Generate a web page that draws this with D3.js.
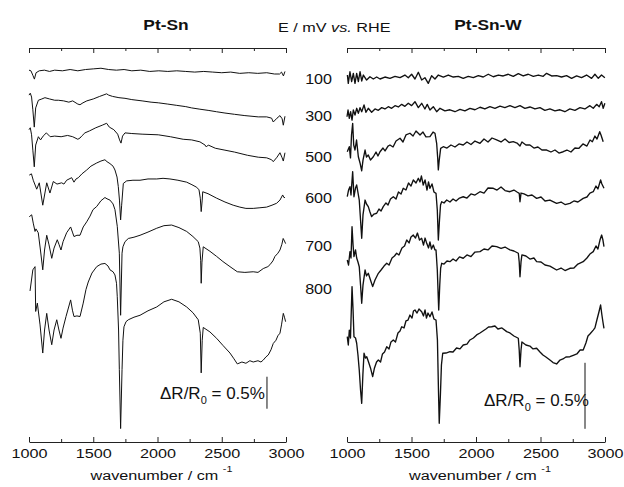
<!DOCTYPE html>
<html>
<head>
<meta charset="utf-8">
<script src="https://cdn.jsdelivr.net/npm/d3@7/dist/d3.min.js"></script>
<style>
  body { margin: 0; background: #fff; }
  svg { display: block; }
</style>
</head>
<body>
<svg id="chart" width="624" height="487"></svg>
<script>
// ─── Data: [wavenumber / cm-1, ΔR/R0 (%) incl. stacking offset] ───
const majorTicks = [1000, 1500, 2000, 2500, 3000];
const minorTicks = [1250, 1750, 2250, 2750];
const potentials = ["100", "300", "500", "600", "700", "800"];
const scaleBarValue = 0.5; // %

// Pt-Sn
const ptSn100 = [[1000,5.81],[1015,5.80],[1030,5.73],[1042,5.67],[1055,5.77],[1080,5.80],[1120,5.81],[1160,5.79],[1200,5.81],[1260,5.80],[1320,5.82],[1380,5.80],[1440,5.82],[1500,5.83],[1560,5.84],[1620,5.82],[1680,5.81],[1740,5.82],[1800,5.80],[1870,5.81],[1940,5.79],[2010,5.80],[2080,5.79],[2150,5.80],[2220,5.79],[2290,5.78],[2360,5.79],[2430,5.78],[2500,5.77],[2570,5.78],[2640,5.76],[2710,5.77],[2780,5.76],[2850,5.77],[2910,5.75],[2950,5.75],[2965,5.78],[2980,5.72],[2992,5.79]];
const ptSn300 = [[1000,5.42],[1010,5.45],[1020,5.39],[1030,5.19],[1041,4.92],[1052,5.22],[1073,5.34],[1100,5.36],[1124,5.38],[1160,5.36],[1200,5.34],[1228,5.34],[1270,5.33],[1310,5.31],[1340,5.33],[1380,5.28],[1397,5.27],[1420,5.30],[1450,5.33],[1500,5.36],[1550,5.40],[1604,5.44],[1620,5.42],[1650,5.40],[1700,5.38],[1747,5.37],[1800,5.35],[1880,5.33],[1950,5.31],[2006,5.30],[2080,5.28],[2150,5.26],[2220,5.24],[2266,5.22],[2330,5.20],[2400,5.18],[2460,5.16],[2525,5.14],[2600,5.12],[2680,5.10],[2784,5.08],[2850,5.08],[2888,5.06],[2901,5.00],[2930,5.06],[2953,5.10],[2970,5.05],[2979,4.95],[2992,5.09]];
const ptSn500 = [[1000,4.88],[1010,4.91],[1020,4.80],[1030,4.56],[1041,4.30],[1052,4.64],[1073,4.77],[1090,4.72],[1110,4.78],[1135,4.83],[1165,4.77],[1200,4.78],[1250,4.77],[1300,4.79],[1340,4.77],[1380,4.73],[1397,4.75],[1410,4.78],[1435,4.83],[1470,4.86],[1520,4.91],[1570,4.95],[1604,4.98],[1625,4.92],[1660,4.88],[1690,4.81],[1705,4.72],[1716,4.67],[1728,4.78],[1747,4.83],[1800,4.82],[1880,4.81],[2006,4.80],[2100,4.77],[2200,4.73],[2266,4.72],[2330,4.69],[2370,4.64],[2380,4.61],[2395,4.64],[2450,4.59],[2525,4.56],[2600,4.53],[2700,4.48],[2784,4.45],[2850,4.44],[2888,4.41],[2901,4.38],[2930,4.45],[2953,4.52],[2970,4.44],[2979,4.39],[2992,4.52]];
const ptSn600 = [[1002,4.17],[1019,4.19],[1033,4.09],[1060,3.95],[1080,4.05],[1107,3.70],[1138,4.05],[1163,3.89],[1189,4.07],[1218,4.03],[1254,4.05],[1272,4.03],[1293,4.09],[1332,4.13],[1350,4.06],[1366,4.11],[1384,4.13],[1412,4.19],[1449,4.25],[1482,4.31],[1527,4.36],[1560,4.39],[1591,4.41],[1607,4.38],[1630,4.35],[1654,4.31],[1669,4.25],[1685,4.14],[1695,3.99],[1704,3.78],[1713,3.47],[1721,3.70],[1734,4.04],[1760,4.08],[1809,4.09],[1864,4.09],[1926,4.11],[1994,4.11],[2043,4.12],[2097,4.11],[2159,4.09],[2227,4.06],[2268,4.02],[2305,3.98],[2323,3.94],[2333,3.81],[2340,3.60],[2348,3.78],[2352,3.91],[2393,3.88],[2460,3.81],[2525,3.75],[2589,3.70],[2641,3.67],[2688,3.65],[2745,3.65],[2797,3.66],[2849,3.67],[2891,3.70],[2927,3.73],[2953,3.78],[2974,3.86],[2984,3.82],[2992,3.82]];
const ptSn700 = [[1002,3.52],[1021,3.55],[1033,3.42],[1047,3.29],[1054,3.33],[1072,3.27],[1089,3.00],[1107,2.69],[1121,3.00],[1138,3.23],[1156,3.08],[1177,2.87],[1195,3.03],[1220,3.16],[1233,3.09],[1249,3.00],[1265,3.13],[1293,3.27],[1324,3.36],[1338,3.28],[1350,3.21],[1373,3.23],[1397,3.23],[1422,3.36],[1449,3.44],[1475,3.53],[1498,3.63],[1527,3.68],[1560,3.77],[1591,3.82],[1607,3.80],[1630,3.78],[1654,3.72],[1669,3.63],[1687,3.37],[1703,2.95],[1713,1.98],[1724,2.95],[1731,3.05],[1747,3.13],[1773,3.18],[1817,3.20],[1864,3.23],[1926,3.28],[1994,3.34],[2050,3.38],[2110,3.39],[2167,3.35],[2227,3.29],[2276,3.21],[2317,3.13],[2330,3.03],[2336,2.84],[2340,2.48],[2346,2.81],[2356,3.05],[2408,2.98],[2460,2.90],[2509,2.82],[2564,2.74],[2621,2.66],[2680,2.65],[2745,2.66],[2782,2.65],[2823,2.71],[2859,2.74],[2875,2.77],[2898,2.83],[2914,2.90],[2937,2.95],[2953,3.00],[2968,3.09],[2978,3.18],[2988,3.14],[2997,3.10]];
const ptSn800 = [[1008,2.36],[1030,2.69],[1047,2.74],[1052,2.04],[1065,2.17],[1086,1.83],[1107,1.39],[1121,1.75],[1138,2.01],[1156,1.75],[1177,1.52],[1195,1.75],[1216,1.91],[1233,1.75],[1249,1.62],[1265,1.78],[1288,1.96],[1324,2.22],[1338,2.06],[1350,1.96],[1373,1.97],[1397,1.96],[1422,2.17],[1443,2.38],[1461,2.50],[1490,2.64],[1527,2.74],[1560,2.78],[1591,2.79],[1615,2.75],[1630,2.69],[1654,2.66],[1669,2.61],[1681,2.48],[1687,2.27],[1697,1.75],[1703,1.13],[1713,0.21],[1724,1.13],[1731,1.59],[1739,1.80],[1755,1.88],[1773,1.91],[1817,1.95],[1864,1.98],[1926,2.05],[1994,2.11],[2050,2.19],[2110,2.23],[2167,2.19],[2227,2.11],[2276,2.02],[2317,1.91],[2333,1.70],[2340,1.08],[2348,1.59],[2356,1.79],[2408,1.72],[2460,1.62],[2509,1.51],[2564,1.39],[2595,1.30],[2621,1.22],[2657,1.25],[2688,1.23],[2719,1.27],[2745,1.25],[2782,1.27],[2805,1.25],[2823,1.28],[2844,1.33],[2862,1.36],[2883,1.44],[2901,1.54],[2922,1.59],[2937,1.66],[2953,1.70],[2965,1.83],[2979,2.01],[2988,1.95],[2997,1.88]];

// Pt-Sn-W
const ptSnW100 = [[1003,2.780],[1010,2.717],[1023,2.805],[1036,2.730],[1049,2.793],[1062,2.717],[1075,2.793],[1088,2.730],[1101,2.805],[1114,2.735],[1127,2.780],[1152,2.742],[1178,2.767],[1204,2.750],[1230,2.765],[1256,2.750],[1294,2.765],[1333,2.755],[1372,2.770],[1411,2.760],[1449,2.780],[1475,2.760],[1501,2.786],[1527,2.750],[1553,2.801],[1579,2.742],[1604,2.760],[1630,2.717],[1656,2.775],[1682,2.750],[1708,2.780],[1747,2.765],[1785,2.780],[1824,2.765],[1863,2.770],[1901,2.755],[1940,2.770],[1979,2.760],[2018,2.775],[2056,2.765],[2095,2.786],[2134,2.767],[2173,2.780],[2211,2.773],[2250,2.786],[2289,2.770],[2328,2.790],[2366,2.773],[2405,2.786],[2444,2.770],[2483,2.780],[2521,2.770],[2547,2.793],[2586,2.773],[2625,2.775],[2663,2.765],[2702,2.775],[2741,2.755],[2780,2.773],[2818,2.760],[2857,2.780],[2896,2.755],[2922,2.786],[2948,2.755],[2973,2.780],[2999,2.760]];
const ptSnW300 = [[1000,2.464],[1008,2.515],[1018,2.452],[1028,2.502],[1039,2.439],[1049,2.515],[1062,2.477],[1075,2.528],[1088,2.490],[1101,2.533],[1114,2.502],[1132,2.553],[1147,2.498],[1165,2.528],[1191,2.498],[1217,2.523],[1243,2.513],[1269,2.533],[1294,2.523],[1320,2.540],[1346,2.528],[1372,2.548],[1398,2.538],[1424,2.558],[1449,2.543],[1475,2.566],[1501,2.548],[1527,2.578],[1553,2.533],[1579,2.566],[1604,2.523],[1622,2.558],[1643,2.515],[1669,2.540],[1695,2.502],[1721,2.528],[1759,2.508],[1798,2.517],[1837,2.502],[1876,2.520],[1914,2.508],[1953,2.528],[1992,2.517],[2031,2.536],[2069,2.523],[2108,2.540],[2147,2.528],[2186,2.545],[2224,2.533],[2263,2.548],[2302,2.533],[2341,2.548],[2379,2.528],[2418,2.538],[2457,2.523],[2496,2.533],[2534,2.513],[2573,2.523],[2612,2.508],[2651,2.517],[2689,2.502],[2728,2.523],[2767,2.513],[2806,2.533],[2844,2.523],[2883,2.548],[2909,2.528],[2935,2.558],[2955,2.540],[2973,2.578],[2986,2.528],[2999,2.566]];
const ptSnW500 = [[1002,2.199],[1018,2.237],[1027,2.152],[1035,2.326],[1044,2.414],[1052,2.250],[1062,2.212],[1074,2.288],[1088,2.161],[1101,2.114],[1114,2.055],[1124,2.136],[1140,2.212],[1151,2.159],[1165,2.174],[1182,2.136],[1204,2.161],[1225,2.197],[1240,2.167],[1256,2.199],[1279,2.227],[1295,2.205],[1318,2.242],[1333,2.250],[1357,2.235],[1380,2.280],[1411,2.301],[1434,2.273],[1457,2.326],[1488,2.339],[1512,2.318],[1535,2.356],[1566,2.326],[1589,2.348],[1612,2.311],[1643,2.313],[1667,2.348],[1682,2.339],[1695,2.263],[1703,2.152],[1708,2.061],[1715,2.136],[1726,2.225],[1746,2.237],[1775,2.227],[1806,2.250],[1837,2.235],[1868,2.258],[1901,2.250],[1930,2.273],[1961,2.254],[1992,2.280],[2031,2.263],[2062,2.295],[2093,2.273],[2124,2.303],[2160,2.288],[2194,2.273],[2225,2.295],[2256,2.269],[2289,2.275],[2318,2.265],[2341,2.242],[2356,2.273],[2387,2.250],[2418,2.250],[2449,2.227],[2480,2.235],[2511,2.212],[2548,2.212],[2581,2.197],[2612,2.212],[2643,2.189],[2676,2.199],[2705,2.212],[2736,2.197],[2767,2.227],[2798,2.225],[2829,2.258],[2860,2.242],[2884,2.288],[2902,2.275],[2922,2.318],[2938,2.295],[2959,2.351],[2969,2.326],[2986,2.275]];
const ptSnW600 = [[1002,1.858],[1012,1.909],[1023,1.934],[1031,1.871],[1044,2.048],[1054,1.858],[1066,1.924],[1075,1.947],[1095,1.833],[1105,1.682],[1114,1.543],[1124,1.720],[1140,1.833],[1151,1.803],[1165,1.783],[1178,1.742],[1191,1.707],[1209,1.727],[1230,1.733],[1248,1.765],[1264,1.750],[1281,1.783],[1302,1.811],[1318,1.795],[1337,1.841],[1359,1.858],[1380,1.841],[1399,1.894],[1419,1.879],[1436,1.922],[1457,1.909],[1477,1.962],[1496,1.939],[1514,1.985],[1535,1.962],[1553,1.998],[1566,1.970],[1577,2.015],[1591,1.947],[1605,1.985],[1620,1.909],[1632,1.970],[1643,1.922],[1659,1.955],[1674,1.894],[1690,1.884],[1700,1.758],[1708,1.530],[1717,1.682],[1725,1.795],[1734,1.820],[1752,1.811],[1773,1.833],[1798,1.818],[1822,1.841],[1845,1.826],[1872,1.848],[1901,1.858],[1930,1.848],[1961,1.879],[1992,1.871],[2031,1.896],[2062,1.886],[2093,1.924],[2134,1.922],[2163,1.909],[2194,1.932],[2225,1.905],[2263,1.896],[2294,1.909],[2318,1.894],[2335,1.884],[2341,1.820],[2349,1.886],[2372,1.879],[2403,1.864],[2434,1.871],[2470,1.846],[2504,1.856],[2535,1.826],[2573,1.833],[2625,1.808],[2659,1.818],[2690,1.799],[2728,1.808],[2759,1.826],[2790,1.818],[2831,1.846],[2860,1.856],[2883,1.886],[2909,1.896],[2930,1.939],[2945,1.917],[2966,1.985],[2976,1.955],[2992,1.922]];
const ptSnW700 = [[1002,1.379],[1012,1.341],[1023,1.442],[1031,1.394],[1039,1.631],[1047,1.492],[1054,1.404],[1066,1.455],[1075,1.394],[1085,1.364],[1095,1.328],[1105,1.189],[1114,1.051],[1124,1.189],[1140,1.303],[1151,1.258],[1165,1.278],[1182,1.227],[1199,1.177],[1217,1.227],[1243,1.278],[1264,1.303],[1287,1.333],[1308,1.354],[1326,1.341],[1349,1.394],[1368,1.409],[1385,1.430],[1403,1.417],[1426,1.470],[1446,1.485],[1463,1.530],[1481,1.508],[1496,1.553],[1514,1.568],[1531,1.545],[1546,1.583],[1562,1.530],[1579,1.543],[1593,1.492],[1605,1.545],[1618,1.505],[1632,1.470],[1643,1.515],[1655,1.462],[1669,1.492],[1682,1.455],[1690,1.455],[1700,1.303],[1711,1.000],[1719,1.189],[1726,1.318],[1734,1.354],[1752,1.348],[1775,1.371],[1798,1.366],[1822,1.386],[1845,1.371],[1872,1.402],[1901,1.392],[1930,1.417],[1961,1.405],[1992,1.439],[2031,1.442],[2062,1.462],[2093,1.455],[2124,1.485],[2160,1.480],[2194,1.466],[2225,1.477],[2263,1.455],[2294,1.447],[2328,1.430],[2335,1.364],[2341,1.252],[2349,1.364],[2356,1.417],[2387,1.409],[2418,1.386],[2449,1.394],[2470,1.366],[2504,1.364],[2535,1.341],[2573,1.333],[2625,1.303],[2659,1.318],[2690,1.299],[2728,1.316],[2759,1.318],[2790,1.348],[2831,1.366],[2860,1.394],[2883,1.424],[2909,1.442],[2930,1.485],[2945,1.462],[2961,1.530],[2974,1.568],[2984,1.530],[2992,1.480]];
const ptSnW800 = [[1002,0.798],[1010,0.735],[1018,0.848],[1027,0.788],[1039,1.177],[1047,1.000],[1054,0.798],[1066,0.788],[1075,0.748],[1085,0.659],[1095,0.545],[1105,0.394],[1114,0.293],[1123,0.508],[1132,0.672],[1143,0.636],[1153,0.646],[1167,0.606],[1182,0.561],[1199,0.495],[1213,0.561],[1229,0.606],[1243,0.621],[1260,0.606],[1275,0.667],[1291,0.682],[1308,0.722],[1326,0.705],[1341,0.758],[1359,0.773],[1376,0.758],[1395,0.826],[1411,0.841],[1424,0.873],[1442,0.864],[1457,0.917],[1473,0.924],[1488,0.962],[1504,0.939],[1515,0.992],[1527,1.000],[1543,0.977],[1558,1.008],[1579,0.987],[1593,0.955],[1605,1.000],[1616,0.939],[1628,0.977],[1643,0.949],[1659,0.985],[1674,0.932],[1690,0.924],[1701,0.773],[1709,0.394],[1715,0.142],[1724,0.356],[1732,0.583],[1742,0.672],[1767,0.674],[1798,0.684],[1822,0.682],[1849,0.712],[1876,0.705],[1901,0.735],[1930,0.742],[1953,0.773],[1980,0.788],[2005,0.811],[2031,0.826],[2054,0.841],[2077,0.856],[2097,0.871],[2121,0.873],[2147,0.879],[2170,0.856],[2201,0.864],[2238,0.836],[2263,0.826],[2294,0.803],[2328,0.786],[2335,0.697],[2341,0.570],[2349,0.697],[2356,0.758],[2387,0.735],[2418,0.727],[2442,0.705],[2470,0.710],[2496,0.682],[2519,0.659],[2542,0.644],[2573,0.621],[2597,0.602],[2625,0.591],[2651,0.621],[2674,0.629],[2697,0.644],[2728,0.646],[2759,0.659],[2782,0.667],[2807,0.697],[2831,0.697],[2852,0.750],[2868,0.803],[2883,0.818],[2909,0.848],[2922,0.864],[2937,0.924],[2953,0.985],[2966,1.038],[2976,0.962],[2984,0.909],[2992,0.861]];

const ptSnSeries  = [ptSn100, ptSn300, ptSn500, ptSn600, ptSn700, ptSn800];
const ptSnWSeries = [ptSnW100, ptSnW300, ptSnW500, ptSnW600, ptSnW700, ptSnW800];

// ─── Layout ───
const svg = d3.select("#chart");
const FONT = "'Liberation Sans', Arial, Helvetica, sans-serif";
const TEXT_SX = 1.2;        // the original lettering is drawn a bit wide
const axisTop = 48, axisBottom = 442;

const panels = [
  { title: "Pt-Sn",   titleX: 166, x0: 29,  x1: 286, pxPerPct: 64,  series: ptSnSeries, lw: 1,
    bar: { w: 2852, base: 0.52 }, barText: { x: 160, y: 399 } },
  { title: "Pt-Sn-W", titleX: 488, x0: 347, x1: 605, pxPerPct: 132, series: ptSnWSeries, lw: 1.35,
    bar: { w: 2845, base: 0.10 }, barText: { x: 484, y: 406 } }
];

function wideText(sel, x, y, sx) {
  return sel.attr("transform", `translate(${x},${y}) scale(${sx},1)`);
}

panels.forEach(p => {
  const x = d3.scaleLinear().domain([1000, 3000]).range([p.x0, p.x1]);
  const y = d3.scaleLinear().domain([0, 1]).range([axisBottom, axisBottom - p.pxPerPct]);
  const g = svg.append("g");

  // title
  wideText(g.append("text"), p.titleX, 30, 1.12)
    .attr("text-anchor", "middle")
    .attr("font-family", FONT).attr("font-size", 15.5).attr("font-weight", "bold")
    .attr("fill", "#111")
    .text(p.title);

  // top axis (ticks inward, no labels)
  const top = g.append("g").attr("transform", `translate(0,${axisTop})`)
    .call(d3.axisTop(x).tickValues(majorTicks).tickSize(-5).tickSizeOuter(0).tickFormat(""));
  top.append("g")
    .call(d3.axisTop(x).tickValues(minorTicks).tickSize(-3).tickSizeOuter(0).tickFormat(""))
    .select(".domain").remove();

  // bottom axis
  const bot = g.append("g").attr("transform", `translate(0,${axisBottom})`)
    .call(d3.axisBottom(x).tickValues(majorTicks).tickSize(-5).tickSizeOuter(0)
      .tickPadding(6).tickFormat(d3.format("d")));
  bot.append("g")
    .call(d3.axisBottom(x).tickValues(minorTicks).tickSize(-3).tickSizeOuter(0).tickFormat(""))
    .select(".domain").remove();
  [top, bot].forEach(a => {
    a.selectAll("path, line").attr("stroke", "#222").attr("stroke-width", 1);
  });
  bot.selectAll(".tick text")
    .attr("font-family", FONT).attr("font-size", 13.5).attr("fill", "#111")
    .attr("transform", `scale(${TEXT_SX},1)`);

  // x axis title
  const xt = wideText(g.append("text"), (p.x0 + p.x1) / 2 + 4, 480, TEXT_SX)
    .attr("text-anchor", "middle")
    .attr("font-family", FONT).attr("font-size", 13.5).attr("fill", "#111");
  xt.append("tspan").text("wavenumber / cm ");
  xt.append("tspan").attr("font-size", 9).attr("dy", -8).text("-1");

  // spectra
  const line = d3.line().x(d => x(d[0])).y(d => y(d[1]));
  g.selectAll(".spec").data(p.series).enter().append("path")
    .attr("class", "spec")
    .attr("d", line)
    .attr("fill", "none")
    .attr("stroke", "#111")
    .attr("stroke-width", p.lw)
    .attr("stroke-linejoin", "round");

  // scale bar
  g.append("line")
    .attr("x1", x(p.bar.w)).attr("x2", x(p.bar.w))
    .attr("y1", y(p.bar.base)).attr("y2", y(p.bar.base + scaleBarValue))
    .attr("stroke", "#111").attr("stroke-width", 1);
  const bt = wideText(g.append("text"), p.barText.x, p.barText.y, 1.0)
    .attr("font-family", FONT).attr("font-size", 17).attr("fill", "#111");
  bt.append("tspan").text("ΔR/R");
  bt.append("tspan").attr("font-size", 11).attr("dy", 5).text("0");
  bt.append("tspan").attr("dy", -5).text(` = ${scaleBarValue}%`);
});

// ─── Potential labels between the panels ───
const labelBaselines = [84, 121, 162, 203, 251, 294];
wideText(svg.append("text"), 278, 32, TEXT_SX)
  .attr("font-family", FONT).attr("font-size", 13.5).attr("fill", "#111")
  .call(t => {
    t.append("tspan").text("E / mV ");
    t.append("tspan").attr("font-style", "italic").text("vs.");
    t.append("tspan").text(" RHE");
  });
potentials.forEach((label, i) => {
  wideText(svg.append("text"), 332, labelBaselines[i], 1.15)
    .attr("text-anchor", "end")
    .attr("font-family", FONT).attr("font-size", 14).attr("fill", "#111")
    .text(label);
});
</script>
</body>
</html>
